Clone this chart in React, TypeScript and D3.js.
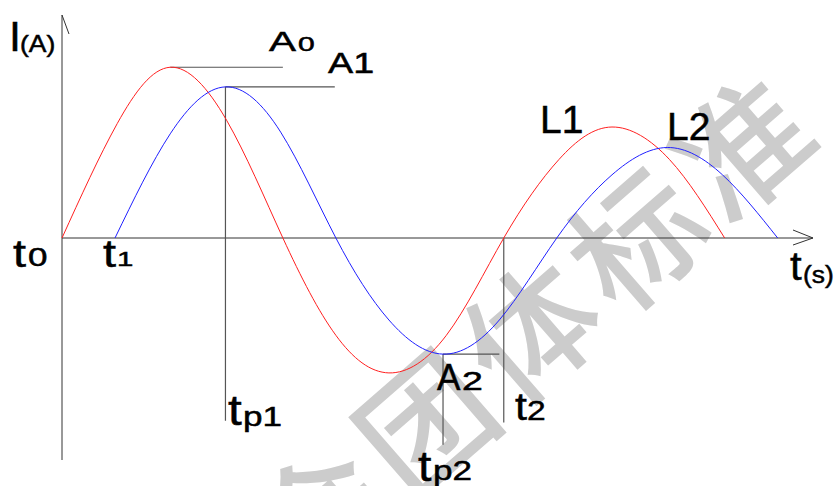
import React, { useEffect, useRef } from "react";
import * as d3 from "d3";

// time axis in ms, current in % of A0
const timeDomain = [0, 34];
const currentDomain = [-130, 130];

const redT = [0, 2.5, 4.9, 7.45, 10, 12.4, 14.8, 17.4, 20, 22.5, 24.9, 27.5, 30];
const redI = [0, 67, 100, 69, 0, -57, -79, -57, 0, 46, 65, 46, 0];

const blueT = [2.4, 4.9, 7.4, 9.9, 12.4, 14.8, 17.25, 19.8, 22.4, 24.9, 27.4, 29.9, 32.4];
const blueI = [0, 61, 88.5, 62, 0, -48, -68, -48, 0, 37, 53, 37, 0];

// peak markers: horizontal line from the peak to endT
const peakNames = ["A0", "A1", "A2"];
const peakT = [4.9, 7.4, 17.25];
const peakI = [100, 88.5, -68];
const peakEndT = [10, 12.35, 19.8];

// vertical drop lines
const dropNames = ["tp1", "tp2", "t2"];
const dropT = [7.4, 17.25, 20];
const dropFrom = [88.5, -68, 0];
const dropTo = [-107, -121, -108];

const watermark = "会团体标准";

// label text: main + subscript
const labelMain = ["I", "A", "A1", "t", "t", "t", "t", "t", "A", "L1", "L2", "t"];
const labelSub = ["(A)", "0", "", "0", "1", "p1", "p2", "2", "2", "", "", "(s)"];

// layout of labels: x, baseline, size, sx, subX, subBaseline, subSize, subSx
const labelLayout = [
  [9, 51, 43, 1, 20, 52, 23, 1.15],
  [269, 51, 27, 1.5, 298, 51, 20, 1.5],
  [328, 73, 29, 1.3, 0, 0, 0, 1],
  [13, 267, 39, 1.2, 28, 266, 25, 1.4],
  [103, 267, 39, 1.2, 117, 266, 21, 1.4],
  [228, 425, 43, 1.15, 243, 426, 27, 1.3],
  [418, 481, 42, 1.15, 433, 480, 27, 1.3],
  [515, 420, 39, 1.1, 527, 420, 28, 1.2],
  [437, 390, 37, 0.95, 462, 390, 25, 1.5],
  [540, 133, 39, 1, 0, 0, 0, 1],
  [667, 140, 39, 1, 0, 0, 0, 1],
  [790, 280, 40, 1.05, 803, 283, 24, 1.1],
];

const W = 834;
const H = 486;

export default function App() {
  const ref = useRef<SVGSVGElement>(null);

  useEffect(() => {
    const svg = d3.select(ref.current);
    svg.selectAll("*").remove();

    const x = d3.scaleLinear().domain(timeDomain).range([62, 813]);
    const y = d3.scaleLinear().domain(currentDomain).range([460, 16]);

    // watermark
    svg
      .append("text")
      .attr("transform", "translate(530,322) rotate(-41)")
      .attr("text-anchor", "middle")
      .attr("dominant-baseline", "central")
      .attr("font-family", "Noto Sans CJK SC")
      .attr("font-weight", 500)
      .attr("font-size", 130)
      .attr("letter-spacing", 10)
      .attr("fill", "#cccccc")
      .text(watermark);

    const axis = svg.append("g").attr("stroke", "#333").attr("stroke-width", 1).attr("fill", "none");
    const y0 = y(0);
    axis.append("line").attr("x1", x(0)).attr("y1", y(currentDomain[0])).attr("x2", x(0)).attr("y2", y(currentDomain[1]) - 1);
    axis.append("line").attr("x1", x(0)).attr("y1", y(currentDomain[1]) - 1).attr("x2", x(0) + 7).attr("y2", y(currentDomain[1]) + 18);
    axis.append("line").attr("x1", x(0)).attr("y1", y0).attr("x2", x(timeDomain[1])).attr("y2", y0);
    axis
      .append("path")
      .attr("d", `M${x(timeDomain[1]) - 20},${y0 - 8}L${x(timeDomain[1])},${y0}L${x(timeDomain[1]) - 20},${y0 + 7}`);

    // reference lines
    const refs = svg.append("g").attr("stroke", "#555").attr("stroke-width", 1.2);
    peakNames.forEach((_, i) => {
      refs.append("line").attr("x1", x(peakT[i])).attr("y1", y(peakI[i])).attr("x2", x(peakEndT[i])).attr("y2", y(peakI[i]));
    });
    dropNames.forEach((_, i) => {
      refs.append("line").attr("x1", x(dropT[i])).attr("y1", y(dropFrom[i])).attr("x2", x(dropT[i])).attr("y2", y(dropTo[i]));
    });

    const line = d3
      .line<number>()
      .x((d) => x(d))
      .curve(d3.curveNatural);

    svg
      .append("path")
      .attr("d", line.y((_, i) => y(redI[i]))(redT))
      .attr("fill", "none")
      .attr("stroke", "#ff2020")
      .attr("stroke-width", 1);
    svg
      .append("path")
      .attr("d", line.y((_, i) => y(blueI[i]))(blueT))
      .attr("fill", "none")
      .attr("stroke", "#2020ff")
      .attr("stroke-width", 1);

    // labels
    const addText = (tx: number, ty: number, size: number, sx: number, s: string) =>
      svg
        .append("text")
        .attr("transform", `translate(${tx},${ty}) scale(${sx},1)`)
        .attr("font-family", "Liberation Sans, Arial, sans-serif")
        .attr("font-size", size)
        .attr("fill", "#000")
        .attr("stroke", "#000")
        .attr("stroke-width", 0.5)
        .text(s);

    labelMain.forEach((m, i) => {
      const [lx, ly, ls, sx, sX, sY, sS, sSx] = labelLayout[i];
      addText(lx, ly, ls, sx, m);
      if (labelSub[i]) addText(sX, sY, sS, sSx, labelSub[i]);
    });
  }, []);

  return (
    <svg
      ref={ref}
      width={W}
      height={H}
      style={{ position: "absolute", left: 0, top: 0, background: "#fff" }}
    />
  );
}
